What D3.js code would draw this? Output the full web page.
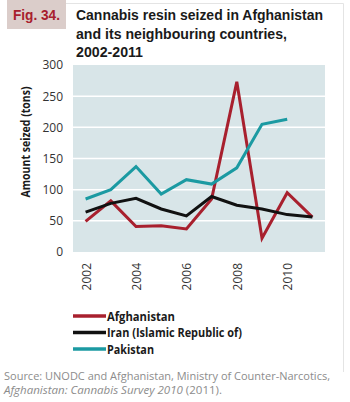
<!DOCTYPE html>
<html>
<head>
<meta charset="utf-8">
<script src="https://cdn.jsdelivr.net/npm/d3@7"></script>
<style>
  body { margin: 0; background: #fff; }
  svg { display: block; }
</style>
</head>
<body>
<div id="chart"></div>
<script>
// chart data
const years = [2002, 2003, 2004, 2005, 2006, 2007, 2008, 2009, 2010, 2011];
const afghanistan = [49, 82, 41, 42, 37, 85, 273, 22, 95, 56];
const iran = [64, 78, 86, 69, 58, 89, 75, 69, 60, 56];
const pakistan = [85, 100, 137, 93, 116, 109, 135, 205, 213, null];
const yTicks = [0, 50, 100, 150, 200, 250, 300];
const xTicks = [2002, 2004, 2006, 2008, 2010];

const series = [
    {name: 'Afghanistan', values: afghanistan, color: '#a8202e', w: 68},
    {name: 'Iran (Islamic Republic of)', values: iran, color: '#111111', w: 135},
    {name: 'Pakistan', values: pakistan, color: '#1b9aa2', w: 47}
];

const width = 350, height = 402;
const margin = {top: 65, right: 25, bottom: 150, left: 73};

const svg = d3.select('#chart').append('svg')
    .attr('width', width)
    .attr('height', height);

// frame + figure tag
svg.append('path')
    .attr('d', 'M66,3.5 H343.5 V372')
    .attr('fill', 'none')
    .attr('stroke', '#e4e4e4')
    .attr('stroke-width', 1);
svg.append('rect')
    .attr('x', 7).attr('y', 0)
    .attr('width', 59).attr('height', 29)
    .attr('fill', '#dbcdca');
svg.append('text')
    .attr('x', 13).attr('y', 20)
    .attr('font-family', 'Liberation Sans, Arial, sans-serif')
    .attr('font-weight', 'bold')
    .attr('font-size', 15)
    .attr('fill', '#a8202e')
    .attr('textLength', 47)
    .attr('lengthAdjust', 'spacingAndGlyphs')
    .text('Fig. 34.');

const titleLines = [
    {t: 'Cannabis resin seized in Afghanistan', y: 20, w: 247},
    {t: 'and its neighbouring countries,', y: 38.5, w: 211},
    {t: '2002-2011', y: 57, w: 67}
];
svg.append('g').selectAll('text')
    .data(titleLines)
    .enter()
    .append('text')
    .attr('x', 76)
    .attr('y', d => d.y)
    .attr('font-family', 'Liberation Sans, Arial, sans-serif')
    .attr('font-weight', 'bold')
    .attr('font-size', 15.5)
    .attr('fill', '#1a1a1a')
    .attr('textLength', d => d.w)
    .attr('lengthAdjust', 'spacingAndGlyphs')
    .text(d => d.t);

// scales
const x = d3.scaleLinear()
    .domain([2001.5, 2011.5])
    .range([margin.left, 325]);
const y = d3.scaleLinear()
    .domain([0, 300])
    .range([252, margin.top]);

// plot background
svg.append('rect')
    .attr('x', x(2001.5))
    .attr('y', y(300))
    .attr('width', x(2011.5) - x(2001.5))
    .attr('height', y(0) - y(300))
    .attr('fill', '#d8e5e8');

// gridlines
svg.append('g').selectAll('line')
    .data(yTicks.filter(d => d > 0 && d < 300))
    .enter()
    .append('line')
    .attr('x1', x(2001.5)).attr('x2', x(2011.5))
    .attr('y1', d => y(d)).attr('y2', d => y(d))
    .attr('stroke', '#ffffff')
    .attr('stroke-width', 1.5);

// y axis
const yAxis = svg.append('g')
    .attr('transform', 'translate(' + x(2001.5) + ',0)')
    .call(d3.axisLeft(y).tickValues(yTicks).tickSize(0).tickPadding(10));
yAxis.select('.domain').remove();
yAxis.selectAll('text')
    .attr('font-family', 'Open Sans, sans-serif')
    .attr('font-size', 12)
    .attr('fill', '#333');

// x axis
const xAxis = svg.append('g')
    .attr('transform', 'translate(0,' + y(0) + ')')
    .call(d3.axisBottom(x).tickValues(xTicks).tickFormat(d3.format('d')).tickSize(0));
xAxis.select('.domain').remove();
xAxis.selectAll('text')
    .attr('font-family', 'Open Sans, sans-serif')
    .attr('font-size', 12)
    .attr('fill', '#333')
    .attr('transform', 'rotate(-90)')
    .attr('text-anchor', 'end')
    .attr('dominant-baseline', 'central')
    .attr('x', -11)
    .attr('y', 0)
    .attr('dy', null);

// y axis title
svg.append('text')
    .attr('transform', 'translate(25,142) rotate(-90)')
    .attr('text-anchor', 'middle')
    .attr('dominant-baseline', 'central')
    .attr('font-family', 'Open Sans, sans-serif')
    .attr('font-weight', 'bold')
    .attr('font-size', 12)
    .attr('fill', '#1a1a1a')
    .attr('textLength', 111)
    .attr('lengthAdjust', 'spacingAndGlyphs')
    .text('Amount seized (tons)');

// lines
const line = d3.line()
    .defined(d => d.v !== null)
    .x(d => x(d.year))
    .y(d => y(d.v));

svg.append('g').selectAll('path')
    .data(series)
    .enter()
    .append('path')
    .attr('d', s => line(years.map((yr, i) => ({year: yr, v: s.values[i]}))))
    .attr('fill', 'none')
    .attr('stroke', s => s.color)
    .attr('stroke-width', 3)
    .attr('stroke-linejoin', 'miter');

// legend
const legend = svg.append('g').selectAll('g')
    .data(series)
    .enter()
    .append('g')
    .attr('transform', (d, i) => 'translate(73,' + (316 + 16.5 * i) + ')');
legend.append('line')
    .attr('x1', 0).attr('x2', 33)
    .attr('stroke', d => d.color)
    .attr('stroke-width', 3.5);
legend.append('text')
    .attr('x', 34)
    .attr('dominant-baseline', 'central')
    .attr('font-family', 'Open Sans, sans-serif')
    .attr('font-weight', 'bold')
    .attr('font-size', 12)
    .attr('fill', '#1a1a1a')
    .attr('textLength', d => d.w)
    .attr('lengthAdjust', 'spacingAndGlyphs')
    .text(d => d.name);

// source
svg.append('text')
    .attr('x', 4).attr('y', 379.5)
    .attr('font-family', 'Open Sans, sans-serif')
    .attr('font-size', 10.5)
    .attr('fill', '#8c8c8c')
    .attr('textLength', 326)
    .attr('lengthAdjust', 'spacingAndGlyphs')
    .text('Source: UNODC and Afghanistan, Ministry of Counter-Narcotics,');
const src2 = svg.append('text')
    .attr('x', 4).attr('y', 394)
    .attr('font-family', 'Open Sans, sans-serif')
    .attr('font-size', 10.5)
    .attr('fill', '#8c8c8c')
    .attr('textLength', 218)
    .attr('lengthAdjust', 'spacingAndGlyphs');
src2.append('tspan')
    .attr('font-style', 'italic')
    .text('Afghanistan: Cannabis Survey 2010');
src2.append('tspan')
    .text(' (2011).');
</script>
</body>
</html>
